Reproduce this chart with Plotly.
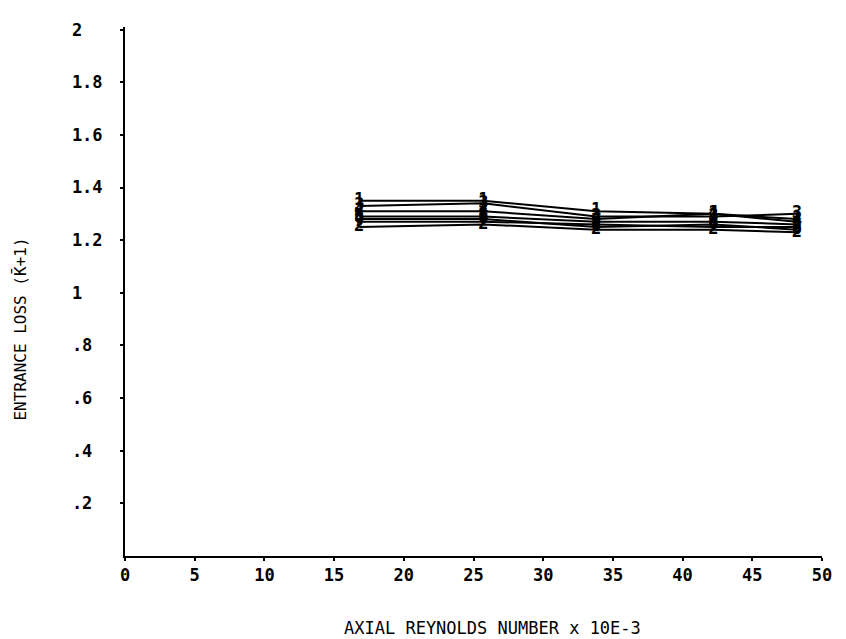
import plotly.graph_objects as go

reynolds = [16.8, 25.7, 33.8, 42.2, 48.2]
series_labels = ["1", "3", "4", "5", "6", "7", "2"]
s1 = [1.35, 1.35, 1.31, 1.30, 1.28]
s3 = [1.33, 1.34, 1.29, 1.29, 1.30]
s4 = [1.31, 1.31, 1.28, 1.30, 1.27]
s5 = [1.29, 1.29, 1.27, 1.27, 1.26]
s6 = [1.28, 1.28, 1.25, 1.26, 1.24]
s7 = [1.27, 1.27, 1.26, 1.25, 1.25]
s2 = [1.25, 1.26, 1.24, 1.24, 1.23]
all_series = [s1, s3, s4, s5, s6, s7, s2]

x_ticks = [0, 5, 10, 15, 20, 25, 30, 35, 40, 45, 50]
y_ticks = [0.2, 0.4, 0.6, 0.8, 1.0, 1.2, 1.4, 1.6, 1.8, 2.0]
y_ticktext = [".2\u00a0", ".4\u00a0", ".6\u00a0", ".8\u00a0", "1\u00a0\u00a0", "1.2", "1.4", "1.6", "1.8", "2\u00a0\u00a0"]

FONT = "DejaVu Sans Mono"

fig = go.Figure()
for lab, vals in zip(series_labels, all_series):
    fig.add_trace(go.Scatter(
        x=reynolds, y=vals, mode="lines+text",
        text=[lab] * len(reynolds), textposition="middle center",
        textfont=dict(family=FONT, size=17, color="black", weight="bold"),
        line=dict(color="black", width=2),
        showlegend=False, hoverinfo="skip"))

fig.update_layout(
    width=846, height=639,
    margin=dict(l=117, r=32, t=19, b=91, autoexpand=False),
    plot_bgcolor="white", paper_bgcolor="white",
    font=dict(family=FONT, size=13, color="black"),
    xaxis=dict(range=[0, 50], tickvals=x_ticks, showgrid=False, zeroline=False,
               showline=True, linecolor="black", linewidth=2,
               ticks="outside", ticklen=3, tickwidth=2, tickcolor="black",
               automargin=False,
               tickfont=dict(family=FONT, size=17, color="black", weight="bold")),
    yaxis=dict(range=[0, 2.01], tickvals=y_ticks, ticktext=y_ticktext,
               showgrid=False, zeroline=False,
               showline=True, linecolor="black", linewidth=2,
               ticks="outside", ticklen=3, tickwidth=2, tickcolor="black",
               ticklabelstandoff=14, automargin=False,
               tickfont=dict(family=FONT, size=17, color="black", weight="bold")),
    annotations=[
        dict(text="AXIAL REYNOLDS NUMBER x 10E-3", xref="paper", yref="paper",
             x=0.527, y=-0.137, yanchor="middle", xanchor="center", showarrow=False,
             font=dict(family=FONT, size=17, color="black")),
        dict(text="ENTRANCE LOSS (K\u0304+1)", xref="paper", yref="paper",
             x=-0.15, y=0.429, textangle=-90, xanchor="center", yanchor="middle",
             showarrow=False, font=dict(family=FONT, size=16, color="black")),
    ],
)

fig.write_html("out.html")
